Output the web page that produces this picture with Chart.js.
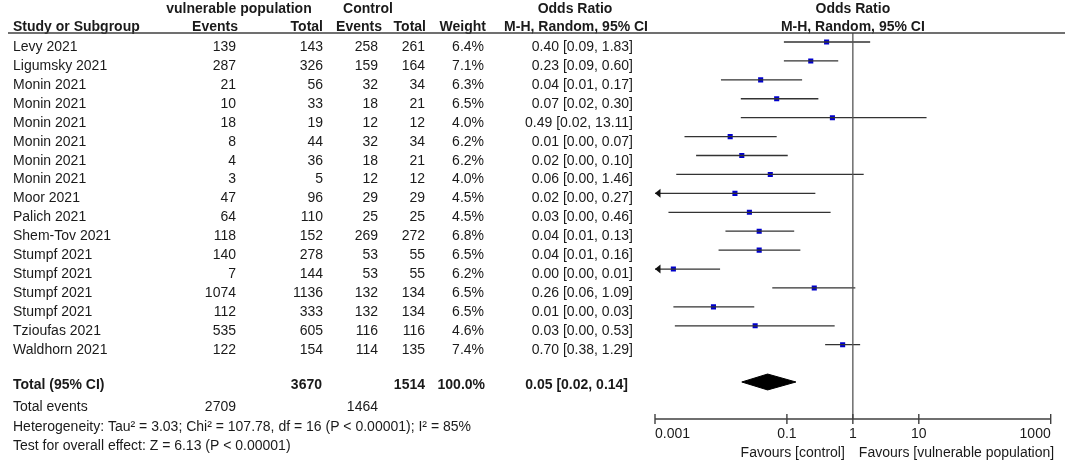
<!DOCTYPE html>
<html>
<head>
<meta charset="utf-8">
<script src="https://cdn.jsdelivr.net/npm/chart.js@4.4.1/dist/chart.umd.min.js"></script>
<style>
  html, body { margin: 0; padding: 0; background: #fff; }
  #wrap { width: 1065px; height: 461px; position: relative; }
</style>
</head>
<body>
<div id="wrap"><canvas id="forest"></canvas></div>
<script>
const studies = ["Levy 2021", "Ligumsky 2021", "Monin 2021", "Monin 2021", "Monin 2021", "Monin 2021",
  "Monin 2021", "Monin 2021", "Moor 2021", "Palich 2021", "Shem-Tov 2021", "Stumpf 2021",
  "Stumpf 2021", "Stumpf 2021", "Stumpf 2021", "Tzioufas 2021", "Waldhorn 2021"];
const vpEvents = [139, 287, 21, 10, 18, 8, 4, 3, 47, 64, 118, 140, 7, 1074, 112, 535, 122];
const vpTotal = [143, 326, 56, 33, 19, 44, 36, 5, 96, 110, 152, 278, 144, 1136, 333, 605, 154];
const ctrlEvents = [258, 159, 32, 18, 12, 32, 18, 12, 29, 25, 269, 53, 53, 132, 132, 116, 114];
const ctrlTotal = [261, 164, 34, 21, 12, 34, 21, 12, 29, 25, 272, 55, 55, 134, 134, 116, 135];
const weights = [6.4, 7.1, 6.3, 6.5, 4.0, 6.2, 6.2, 4.0, 4.5, 4.5, 6.8, 6.5, 6.2, 6.5, 6.5, 4.6, 7.4];
const orEst = [0.40, 0.23, 0.04, 0.07, 0.49, 0.0138, 0.0207, 0.056, 0.0163, 0.027, 0.038, 0.038, 0.0019, 0.26, 0.0077, 0.033, 0.70];
const ciLow = [0.09, 0.09, 0.01, 0.02, 0.02, 0.0028, 0.0042, 0.0021, 0.0008, 0.0016, 0.0117, 0.0092, 0.0003, 0.06, 0.0019, 0.0020, 0.38];
const ciHigh = [1.83, 0.60, 0.17, 0.30, 13.11, 0.07, 0.103, 1.46, 0.27, 0.46, 0.129, 0.16, 0.0097, 1.09, 0.032, 0.53, 1.29];
const pooled = { est: 0.051, low: 0.0207, high: 0.137, weight: 100.0 };
const axisTicks = [0.001, 0.1, 1, 10, 1000];
const axisLabels = ["0.001", "0.1", "1", "10", "1000"];

const X_MIN = 0.001, X_MAX = 1000;
const TOTAL_ROW = 17.97;
const DIAMOND_HALF = 0.42;

const FONT = '"Liberation Sans", Arial, sans-serif';
const INK = "#1a1a1a";
const LINE = "#404040";

const sum = a => a.reduce((s, v) => s + v, 0);
const fmt = v => v.toFixed(2);

// whiskers as one line dataset, broken between studies
const whiskers = [];
studies.forEach((s, i) => {
  whiskers.push({ x: ciLow[i], y: i }, { x: ciHigh[i], y: i }, { x: NaN, y: NaN });
});
const squares = studies.map((s, i) => ({ x: orEst[i], y: i }));
const diamond = [
  { x: pooled.low, y: TOTAL_ROW },
  { x: pooled.est, y: TOTAL_ROW - DIAMOND_HALF },
  { x: pooled.high, y: TOTAL_ROW },
  { x: pooled.est, y: TOTAL_ROW + DIAMOND_HALF },
  { x: pooled.low, y: TOTAL_ROW }
];

function txt(ctx, s, x, y, opts = {}) {
  ctx.save();
  ctx.font = (opts.bold ? "bold " : "") + (opts.size || 14) + "px " + FONT;
  ctx.fillStyle = INK;
  ctx.textAlign = opts.align || "left";
  ctx.textBaseline = "alphabetic";
  ctx.fillText(s, x, y);
  ctx.restore();
}

const tablePlugin = {
  id: "forestTable",
  afterDraw(chart) {
    const ctx = chart.ctx;
    const xs = chart.scales.x, ys = chart.scales.y;
    const area = chart.chartArea;
    const B = { bold: true };

    // header
    txt(ctx, "vulnerable population", 239, 13, { bold: true, align: "center" });
    txt(ctx, "Control", 368, 13, { bold: true, align: "center" });
    txt(ctx, "Odds Ratio", 575, 13, { bold: true, align: "center" });
    txt(ctx, "Study or Subgroup", 13, 31, B);
    txt(ctx, "Events", 238, 31, { bold: true, align: "right" });
    txt(ctx, "Total", 323, 31, { bold: true, align: "right" });
    txt(ctx, "Events", 382, 31, { bold: true, align: "right" });
    txt(ctx, "Total", 426, 31, { bold: true, align: "right" });
    txt(ctx, "Weight", 486, 31, { bold: true, align: "right" });
    txt(ctx, "M-H, Random, 95% CI", 648, 31, { bold: true, align: "right" });
    const xOne = xs.getPixelForValue(1);
    txt(ctx, "Odds Ratio", xOne, 13, { bold: true, align: "center" });
    txt(ctx, "M-H, Random, 95% CI", xOne, 31, { bold: true, align: "center" });

    ctx.save();
    ctx.strokeStyle = LINE;
    ctx.lineWidth = 1.5;
    ctx.beginPath();
    ctx.moveTo(8, area.top);
    ctx.lineTo(1065, area.top);
    ctx.stroke();
    ctx.restore();

    // study rows
    studies.forEach((s, i) => {
      const y = ys.getPixelForValue(i) + 9;
      txt(ctx, s, 13, y);
      txt(ctx, String(vpEvents[i]), 236, y, { align: "right" });
      txt(ctx, String(vpTotal[i]), 323, y, { align: "right" });
      txt(ctx, String(ctrlEvents[i]), 378, y, { align: "right" });
      txt(ctx, String(ctrlTotal[i]), 425, y, { align: "right" });
      txt(ctx, weights[i].toFixed(1) + "%", 484, y, { align: "right" });
      txt(ctx, fmt(orEst[i]) + " [" + fmt(ciLow[i]) + ", " + fmt(ciHigh[i]) + "]", 633, y, { align: "right" });
    });

    // totals
    const yt = ys.getPixelForValue(TOTAL_ROW) + 7;
    txt(ctx, "Total (95% CI)", 13, yt, B);
    txt(ctx, String(sum(vpTotal)), 322, yt, { bold: true, align: "right" });
    txt(ctx, String(sum(ctrlTotal)), 425, yt, { bold: true, align: "right" });
    txt(ctx, pooled.weight.toFixed(1) + "%", 485, yt, { bold: true, align: "right" });
    txt(ctx, fmt(pooled.est) + " [" + fmt(pooled.low) + ", " + fmt(pooled.high) + "]", 628, yt, { bold: true, align: "right" });
    txt(ctx, "Total events", 13, 411);
    txt(ctx, String(sum(vpEvents)), 236, 411, { align: "right" });
    txt(ctx, String(sum(ctrlEvents)), 378, 411, { align: "right" });
    txt(ctx, "Heterogeneity: Tau\u00b2 = 3.03; Chi\u00b2 = 107.78, df = 16 (P < 0.00001); I\u00b2 = 85%", 13, 430.5);
    txt(ctx, "Test for overall effect: Z = 6.13 (P < 0.00001)", 13, 450);

    // arrows for intervals running past the left end of the axis
    ctx.save();
    ctx.fillStyle = "#111";
    studies.forEach((s, i) => {
      if (ciLow[i] >= X_MIN) return;
      const x = xs.getPixelForValue(X_MIN);
      const y = ys.getPixelForValue(i);
      ctx.beginPath();
      ctx.moveTo(x, y);
      ctx.lineTo(x + 5.5, y - 4.5);
      ctx.lineTo(x + 5.5, y + 4.5);
      ctx.closePath();
      ctx.fill();
    });
    ctx.restore();

    // x axis
    const ya = area.bottom;
    ctx.save();
    ctx.strokeStyle = LINE;
    ctx.lineWidth = 1.4;
    ctx.beginPath();
    ctx.moveTo(xs.getPixelForValue(X_MIN), ya);
    ctx.lineTo(xs.getPixelForValue(X_MAX), ya);
    axisTicks.forEach(t => {
      const x = xs.getPixelForValue(t);
      ctx.moveTo(x, ya - 5);
      ctx.lineTo(x, ya + 5);
    });
    ctx.stroke();
    ctx.restore();
    axisTicks.forEach((t, k) => {
      const align = k === 0 ? "left" : (k === axisTicks.length - 1 ? "right" : "center");
      txt(ctx, axisLabels[k], xs.getPixelForValue(t), 438, { align });
    });
    txt(ctx, "Favours [control]", xOne - 8, 457, { align: "right" });
    txt(ctx, "Favours [vulnerable population]", xOne + 6, 457);
  }
};

new Chart(document.getElementById("forest"), {
  type: "scatter",
  data: {
    datasets: [
      {
        label: "null line",
        data: [{ x: 1, y: -0.48 }, { x: 1, y: 19.93 }],
        showLine: true,
        borderColor: "#555",
        borderWidth: 1.3,
        pointRadius: 0
      },
      {
        label: "95% CI",
        data: whiskers,
        showLine: true,
        spanGaps: false,
        borderColor: "#333",
        borderWidth: 1.3,
        pointRadius: 0
      },
      {
        label: "Odds ratio",
        data: squares,
        pointStyle: "rect",
        pointRadius: 3.6,
        backgroundColor: "#0000cc",
        borderWidth: 0
      },
      {
        label: "Total",
        data: diamond,
        showLine: true,
        fill: "shape",
        borderColor: "#000",
        backgroundColor: "#000",
        borderWidth: 1,
        pointRadius: 0
      }
    ]
  },
  options: {
    responsive: true,
    maintainAspectRatio: false,
    animation: false,
    layout: { padding: { left: 655, right: 14.3, top: 33, bottom: 42 } },
    plugins: {
      legend: { display: false },
      tooltip: { enabled: false }
    },
    scales: {
      x: { type: "logarithmic", min: X_MIN, max: X_MAX, display: false },
      y: { type: "linear", reverse: true, min: -0.476, max: 19.926, display: false }
    }
  },
  plugins: [tablePlugin]
});
</script>
</body>
</html>
